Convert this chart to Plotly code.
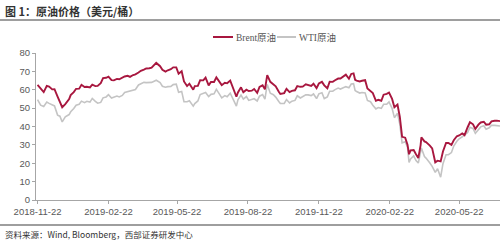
import plotly.graph_objects as go

dates = [
    "2018-11-22", "2018-11-26", "2018-11-30",
    "2018-12-04", "2018-12-07", "2018-12-11", "2018-12-14", "2018-12-18", "2018-12-21", "2018-12-24", "2018-12-28",
    "2019-01-02", "2019-01-04", "2019-01-08", "2019-01-11", "2019-01-15", "2019-01-18", "2019-01-22", "2019-01-25", "2019-01-29",
    "2019-02-01", "2019-02-05", "2019-02-08", "2019-02-12", "2019-02-15", "2019-02-19", "2019-02-22", "2019-02-26",
    "2019-03-01", "2019-03-05", "2019-03-08", "2019-03-12", "2019-03-15", "2019-03-19", "2019-03-22", "2019-03-26", "2019-03-29",
    "2019-04-02", "2019-04-05", "2019-04-09", "2019-04-12", "2019-04-16", "2019-04-19", "2019-04-25", "2019-04-30",
    "2019-05-03", "2019-05-07", "2019-05-10", "2019-05-14", "2019-05-17", "2019-05-21", "2019-05-24", "2019-05-28", "2019-05-31",
    "2019-06-04", "2019-06-07", "2019-06-12", "2019-06-14", "2019-06-18", "2019-06-21", "2019-06-25", "2019-06-28",
    "2019-07-02", "2019-07-05", "2019-07-09", "2019-07-12", "2019-07-16", "2019-07-19", "2019-07-23", "2019-07-26", "2019-07-30",
    "2019-08-02", "2019-08-07", "2019-08-09", "2019-08-13", "2019-08-16", "2019-08-20", "2019-08-23", "2019-08-27", "2019-08-30",
    "2019-09-03", "2019-09-06", "2019-09-10", "2019-09-13", "2019-09-16", "2019-09-20", "2019-09-24", "2019-09-27",
    "2019-10-01", "2019-10-03", "2019-10-08", "2019-10-11", "2019-10-15", "2019-10-18", "2019-10-22", "2019-10-25", "2019-10-29",
    "2019-11-01", "2019-11-05", "2019-11-08", "2019-11-12", "2019-11-15", "2019-11-19", "2019-11-22", "2019-11-26", "2019-11-29",
    "2019-12-03", "2019-12-06", "2019-12-10", "2019-12-13", "2019-12-17", "2019-12-20", "2019-12-24", "2019-12-27", "2019-12-31",
    "2020-01-03", "2020-01-06", "2020-01-08", "2020-01-10", "2020-01-14", "2020-01-17", "2020-01-21", "2020-01-24", "2020-01-28", "2020-01-31",
    "2020-02-04", "2020-02-07", "2020-02-11", "2020-02-14", "2020-02-18", "2020-02-21", "2020-02-25", "2020-02-28",
    "2020-03-03", "2020-03-06", "2020-03-09", "2020-03-13", "2020-03-16", "2020-03-18", "2020-03-20", "2020-03-24", "2020-03-27", "2020-03-30",
    "2020-04-02", "2020-04-03", "2020-04-07", "2020-04-09", "2020-04-14", "2020-04-17", "2020-04-21", "2020-04-24", "2020-04-28",
    "2020-05-01", "2020-05-05", "2020-05-08", "2020-05-12", "2020-05-15", "2020-05-19", "2020-05-22", "2020-05-26", "2020-05-29",
    "2020-06-02", "2020-06-05", "2020-06-09", "2020-06-12", "2020-06-16", "2020-06-19", "2020-06-23", "2020-06-26", "2020-06-30",
    "2020-07-03", "2020-07-07", "2020-07-10", "2020-07-14",
]

brent = [
    62.6, 60.5, 58.7,
    62.1, 61.7, 60.2, 60.3, 56.3, 53.8, 50.5, 52.2,
    54.9, 57.1, 58.7, 60.5, 60.6, 62.7, 61.5, 61.6, 61.3,
    62.8, 62.0, 62.1, 63.6, 66.3, 66.5, 67.1, 65.2,
    65.1, 65.9, 65.7, 66.7, 67.2, 67.6, 67.0, 68.0, 68.4,
    69.4, 70.3, 71.0, 71.6, 71.7, 72.0, 74.6, 72.8,
    70.9, 69.9, 70.6, 71.2, 72.2, 72.2, 68.7, 70.1, 64.5,
    62.0, 63.3, 60.0, 62.0, 62.1, 65.2, 65.1, 66.6,
    62.4, 64.2, 64.2, 66.7, 64.4, 62.5, 63.8, 63.5, 65.0,
    61.9, 56.2, 58.5, 61.3, 58.6, 60.0, 59.3, 59.5, 60.4,
    58.3, 61.5, 62.4, 60.2, 68.0, 64.3, 63.1, 61.9,
    58.9, 57.7, 58.2, 60.5, 58.7, 59.4, 59.7, 62.0, 61.6,
    61.7, 63.0, 62.5, 62.1, 63.3, 60.9, 63.4, 64.3, 62.4,
    60.8, 64.4, 64.3, 65.2, 66.1, 66.1, 67.2, 68.2, 66.0,
    68.6, 68.9, 65.4, 65.0, 64.5, 64.9, 65.2, 60.7, 59.5, 58.2,
    54.0, 54.5, 54.0, 57.3, 57.8, 58.5, 55.0, 50.5,
    51.9, 45.3, 34.4, 33.9, 30.1, 24.9, 27.0, 27.2, 24.9, 22.8,
    29.9, 34.1, 31.9, 31.5, 29.6, 28.1, 20.5, 21.4, 21.0,
    26.4, 31.0, 31.0, 30.0, 32.5, 34.7, 35.1, 36.2, 35.3,
    39.6, 42.3, 41.2, 38.7, 41.0, 42.2, 42.6, 41.0, 41.2,
    42.8, 43.1, 43.2, 42.9,
]

wti = [
    54.6, 51.6, 50.9,
    53.3, 52.6, 51.7, 51.2, 46.2, 45.6, 42.5, 45.3,
    46.5, 48.0, 49.8, 51.6, 52.1, 53.8, 53.0, 53.7, 53.3,
    55.3, 53.7, 52.7, 53.1, 55.6, 56.1, 57.3, 55.5,
    55.8, 56.6, 56.1, 56.9, 58.5, 59.0, 59.0, 59.9, 60.1,
    62.6, 63.1, 64.0, 63.9, 64.1, 64.0, 65.2, 63.9,
    61.9, 61.4, 61.7, 61.8, 62.8, 63.0, 58.6, 59.1, 53.5,
    53.5, 54.0, 51.1, 52.5, 53.9, 57.4, 57.8, 58.5,
    56.3, 57.5, 57.8, 60.2, 57.6, 55.6, 56.8, 56.2, 58.1,
    55.7, 51.1, 54.5, 57.1, 54.9, 56.3, 54.2, 54.9, 55.1,
    53.9, 56.5, 57.4, 54.9, 62.9, 58.1, 57.3, 56.0,
    53.6, 52.5, 52.6, 54.7, 52.8, 53.8, 54.2, 56.7, 55.5,
    56.2, 57.2, 57.2, 56.8, 57.7, 55.2, 57.8, 58.4, 55.2,
    56.1, 59.2, 59.2, 60.1, 60.9, 60.4, 61.1, 61.7, 61.1,
    63.1, 63.3, 59.6, 59.0, 58.2, 58.5, 58.3, 54.2, 53.5, 51.6,
    49.6, 50.3, 49.9, 52.1, 52.1, 53.4, 49.9, 44.8,
    47.2, 41.3, 31.1, 31.7, 28.7, 20.4, 22.4, 24.0, 21.5, 20.1,
    25.3, 28.3, 23.6, 22.8, 20.1, 18.3, 15.0, 17.0, 12.4,
    19.8, 24.6, 24.7, 25.8, 29.4, 32.0, 33.3, 34.4, 35.5,
    36.8, 39.6, 38.9, 36.3, 38.4, 39.8, 40.4, 38.5, 39.3,
    40.7, 40.6, 40.6, 40.3,
]

tick_dates = ["2018-11-22", "2019-02-22", "2019-05-22", "2019-08-22",
              "2019-11-22", "2020-02-22", "2020-05-22"]
y_ticks = [0, 10, 20, 30, 40, 50, 60, 70, 80]

assert len(dates) == len(brent) == len(wti)

BRENT_C = "#A8173F"
WTI_C = "#C4C4C4"
SANS = "Liberation Sans, Arial, Noto Sans CJK SC, sans-serif"
CJK = "Noto Sans CJK SC, Liberation Sans, sans-serif"
SERIF = "Liberation Serif, DejaVu Serif, Noto Sans CJK SC, serif"

fig = go.Figure()
fig.add_trace(go.Scatter(x=dates, y=wti, mode="lines", name="WTI原油",
                         line=dict(color=WTI_C, width=1.6), showlegend=False))
fig.add_trace(go.Scatter(x=dates, y=brent, mode="lines", name="Brent原油",
                         line=dict(color=BRENT_C, width=1.9), showlegend=False))

W, H = 500, 242
L, R, T, B = 36, 0, 53, 42
pw, ph = W - L - R, H - T - B


def px(x):
    return (x - L) / pw


def py(y):
    return (H - B - y) / ph


shapes = [
    dict(type="line", xref="paper", yref="paper", x0=px(0), x1=px(W), y0=py(20), y1=py(20),
         line=dict(color="#9E9E9E", width=2)),
    dict(type="line", xref="paper", yref="paper", x0=px(0), x1=px(W), y0=py(225), y1=py(225),
         line=dict(color="#9E9E9E", width=2)),
    dict(type="line", xref="paper", yref="paper", x0=px(213), x1=px(233), y0=py(37), y1=py(37),
         line=dict(color=BRENT_C, width=2)),
    dict(type="line", xref="paper", yref="paper", x0=px(277), x1=px(296), y0=py(37), y1=py(37),
         line=dict(color=WTI_C, width=2)),
]

annotations = [
    dict(text="<b>图 1：原油价格（美元/桶）</b>", xref="paper", yref="paper", x=px(3), y=py(10.5),
         xanchor="left", yanchor="middle", showarrow=False, font=dict(family=CJK, size=11, color="#333333")),
    dict(text="资料来源：Wind, Bloomberg，西部证券研发中心", xref="paper", yref="paper", x=px(3), y=py(234),
         xanchor="left", yanchor="middle", showarrow=False, font=dict(family=CJK, size=8.5, color="#333333")),
    dict(text="Brent原油", xref="paper", yref="paper", x=px(234), y=py(37),
         xanchor="left", yanchor="middle", showarrow=False, font=dict(family=SERIF, size=9.5, color="#555555")),
    dict(text="WTI原油", xref="paper", yref="paper", x=px(297), y=py(37),
         xanchor="left", yanchor="middle", showarrow=False, font=dict(family=SERIF, size=9.5, color="#555555")),
]

fig.update_layout(
    width=W, height=H,
    margin=dict(l=L, r=R, t=T, b=B, pad=0),
    paper_bgcolor="white", plot_bgcolor="white",
    showlegend=False,
    shapes=shapes, annotations=annotations,
    xaxis=dict(type="date", range=["2018-11-20", "2020-07-14"],
               tickvals=tick_dates, ticktext=tick_dates,
               showgrid=False, zeroline=False, showline=True, linecolor="#A6A6A6", linewidth=1,
               ticks="outside", ticklen=3, tickcolor="#A6A6A6",
               tickfont=dict(family=SANS, size=9.5, color="#595959")),
    yaxis=dict(range=[0, 80], tickvals=y_ticks,
               showgrid=False, zeroline=False, showline=True, linecolor="#A6A6A6", linewidth=1,
               ticks="outside", ticklen=3, tickcolor="#A6A6A6",
               tickfont=dict(family=SANS, size=9.5, color="#595959")),
)

fig.write_html("out.html")
